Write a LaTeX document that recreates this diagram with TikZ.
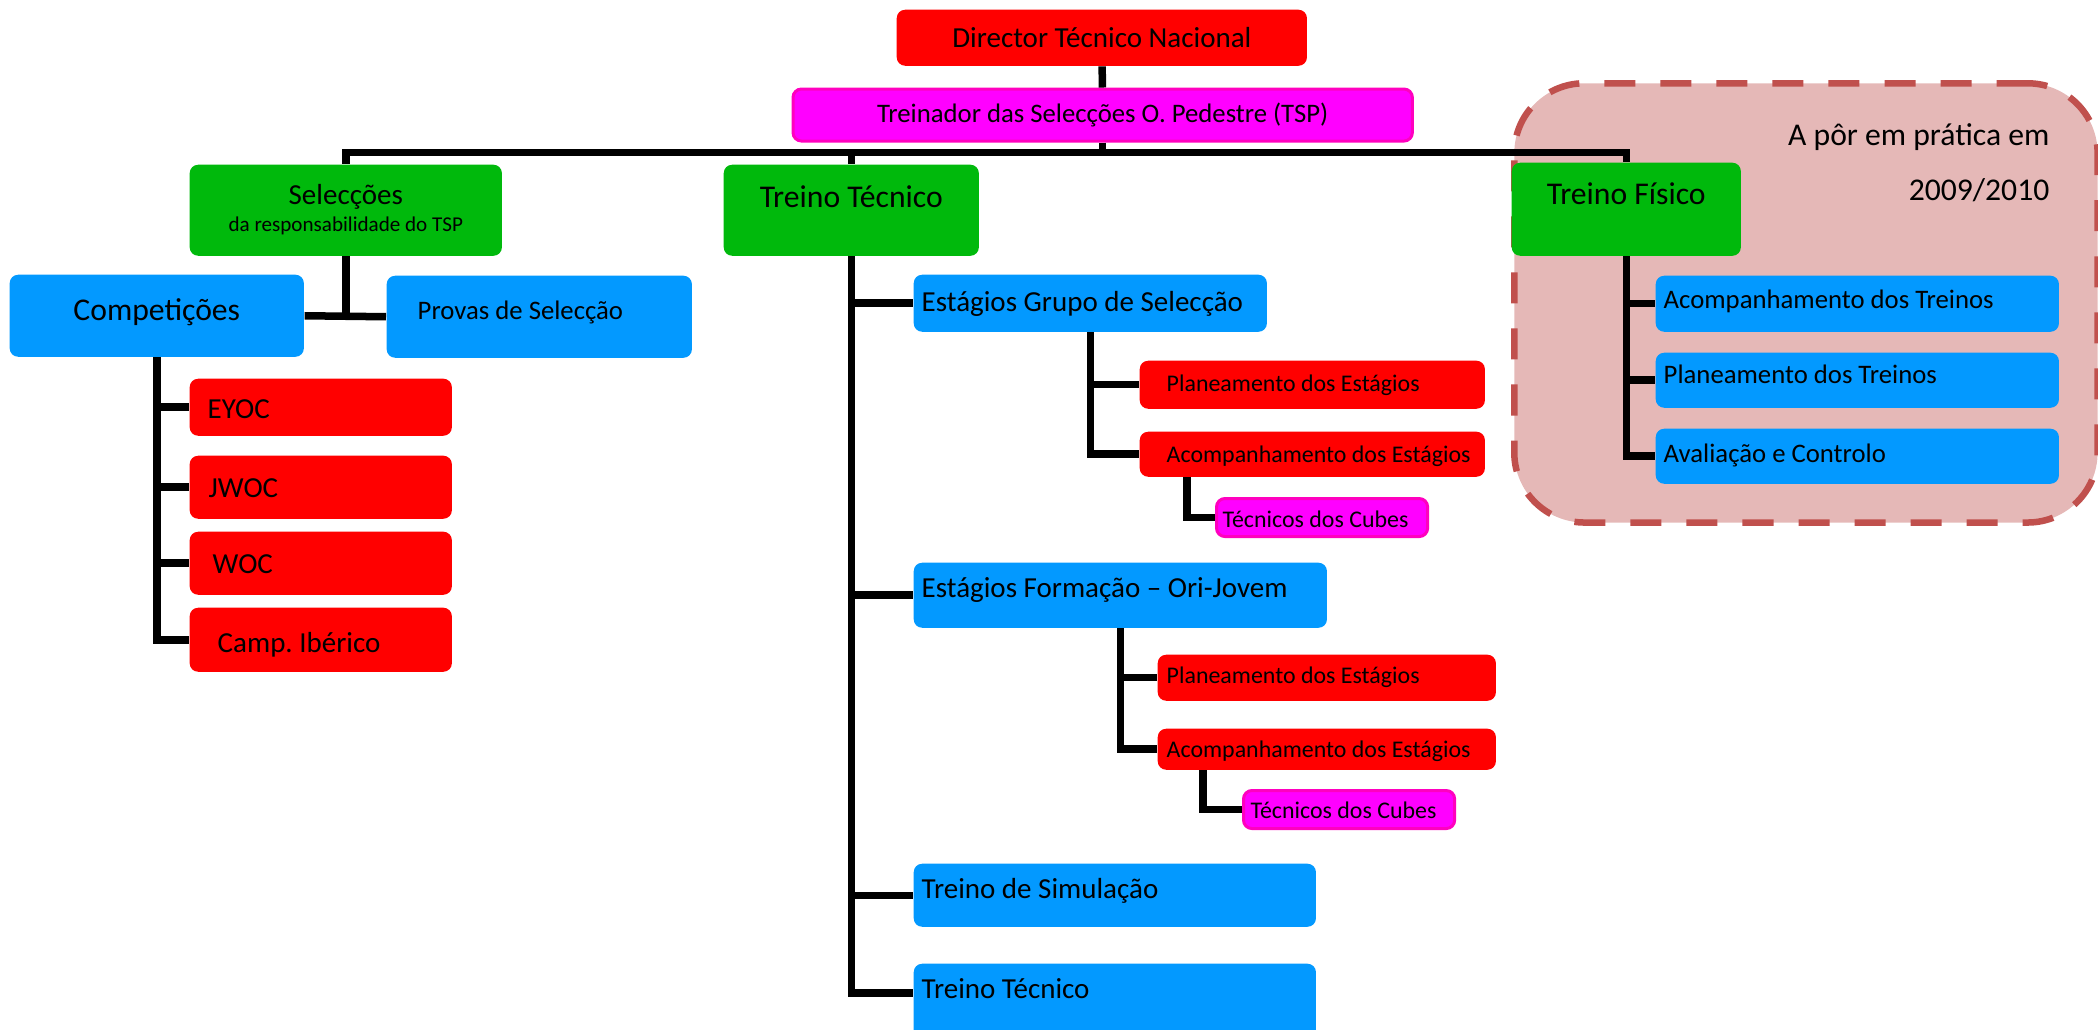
\documentclass[tikz,border=0pt]{standalone}
\usepackage{fontspec}
\setmainfont{Carlito}
\usetikzlibrary{positioning, calc}
\usepackage{xcolor}
\definecolor{boxred}{HTML}{FF0000}
\definecolor{boxpink}{HTML}{FF00FF}
\definecolor{pinkline}{HTML}{FF00BF}
\definecolor{boxgreen}{HTML}{00B90C}
\definecolor{boxblue}{HTML}{0399FF}
\definecolor{planfill}{HTML}{E5B8B7}
\definecolor{planline}{HTML}{C0504D}
\frenchspacing
\tikzset{
    box/.style={
        rectangle, rounded corners=2.4pt, anchor=north west,
        inner xsep=0pt, inner ysep=0pt, text=black, align=flush left
    },
    redbox/.style={box, fill=boxred},
    pinkbox/.style={box, fill=boxpink, draw=pinkline, line width=0.03cm},
    greenbox/.style={box, fill=boxgreen},
    bluebox/.style={box, fill=boxblue},
    planbox/.style={
        rectangle, rounded corners=0.7cm, anchor=north west, inner sep=0pt,
        fill=planfill, draw=planline, line width=0.065cm,
        dash pattern=on 0.31cm off 0.25cm
    },
    conn/.style={draw=black, line width=0.075cm},
    fbig/.style={font=\fontsize{9}{11}\selectfont},
    fmid/.style={font=\fontsize{8.25}{10}\selectfont},
    fsmall/.style={font=\fontsize{7.6}{9}\selectfont},
    ftiny/.style={font=\fontsize{6.8}{8}\selectfont}
}

\begin{document}
\begin{tikzpicture}[x=0.01cm, y=-0.01cm]

    \useasboundingbox (0,0) rectangle (2098,1029);

    % area still to be put in place
    \node[planbox, minimum width=5.83cm, minimum height=4.39cm] (plan) at (1511,80) {};
    \node[fbig, anchor=base east, inner sep=0pt] (note)  at (2050,145) {A pôr em prática em};
    \node[fbig, anchor=base east, inner sep=0pt] (years) at (2050,200) {2009/2010};

    % top of the tree
    \node[redbox, fmid, minimum width=4.10cm, text height=0.38cm, text depth=0.18cm]
        (dir) at (896,9) {Director Técnico Nacional};
    \node[pinkbox, fsmall, minimum width=6.19cm, text height=0.335cm, text depth=0.185cm]
        (tsp) at (791.5,87.5) {Treinador das Selecções O. Pedestre (TSP)};

    \node[greenbox, font=\fontsize{8.25}{7.7}\selectfont, text width=3.12cm, align=flush center,
        text height=0.40cm, text depth=0.51cm]
        (sel) at (189,164) {Selecções\\{\fontsize{6}{7.7}\selectfont da responsabilidade do TSP}};
    \node[greenbox, fbig, minimum width=2.55cm, text height=0.43cm, text depth=0.48cm]
        (tt) at (723,164) {Treino Técnico};
    \node[greenbox, fbig, minimum width=2.29cm, text height=0.42cm, text depth=0.51cm]
        (tf) at (1511,162) {Treino Físico};

    % selections
    \node[bluebox, fbig, minimum width=2.94cm, text height=0.46cm, text depth=0.36cm]
        (comp) at (9,274) {Competições};
    \node[bluebox, fsmall, inner xsep=0.31cm, text width=2.43cm, text height=0.44cm, text depth=0.38cm]
        (prov) at (386,275) {Provas de Selecção};

    \node[redbox, fmid, inner xsep=0.18cm, text width=2.26cm, text height=0.40cm, text depth=0.17cm]
        (eyoc) at (189,378) {EYOC};
    \node[redbox, fmid, inner xsep=0.19cm, text width=2.24cm, text height=0.42cm, text depth=0.21cm]
        (jwoc) at (189,455) {JWOC};
    \node[redbox, fmid, inner xsep=0.23cm, text width=2.16cm, text height=0.42cm, text depth=0.21cm]
        (woc) at (189,531) {WOC};
    \node[redbox, fmid, inner xsep=0.28cm, text width=2.06cm, text height=0.45cm, text depth=0.19cm]
        (camp) at (189,607) {Camp. Ibérico};

    % technical training
    \node[bluebox, fmid, inner xsep=0.08cm, text width=3.37cm, text height=0.37cm, text depth=0.20cm]
        (egs) at (913,274) {Estágios Grupo de Selecção};
    \node[redbox, ftiny, inner xsep=0.13cm, text width=3.19cm, text height=0.31cm, text depth=0.17cm]
        (pe1) at (1139,360) {\hspace{0.14cm}Planeamento dos Estágios};
    \node[redbox, ftiny, inner xsep=0.13cm, text width=3.19cm, text height=0.31cm, text depth=0.14cm]
        (ae1) at (1139,431) {\hspace{0.14cm}Acompanhamento dos Estágios};
    \node[pinkbox, ftiny, inner xsep=0.06cm, text width=1.99cm, text height=0.29cm, text depth=0.09cm]
        (tc1) at (1215,497) {Técnicos dos Cubes};

    \node[bluebox, fmid, inner xsep=0.08cm, text width=3.97cm, text height=0.35cm, text depth=0.30cm]
        (efo) at (913,562) {Estágios Formação – Ori-Jovem};
    \node[redbox, ftiny, inner xsep=0.09cm, text width=3.20cm, text height=0.29cm, text depth=0.17cm]
        (pe2) at (1157,654) {Planeamento dos Estágios};
    \node[redbox, ftiny, inner xsep=0.09cm, text width=3.20cm, text height=0.29cm, text depth=0.12cm]
        (ae2) at (1157,728) {Acompanhamento dos Estágios};
    \node[pinkbox, ftiny, inner xsep=0.07cm, text width=1.97cm, text height=0.28cm, text depth=0.10cm]
        (tc2) at (1242,789) {Técnicos dos Cubes};

    \node[bluebox, fmid, inner xsep=0.08cm, text width=3.86cm, text height=0.35cm, text depth=0.28cm]
        (tsim) at (913,863) {Treino de Simulação};
    \node[bluebox, fmid, inner xsep=0.08cm, text width=3.86cm, text height=0.35cm, text depth=0.45cm]
        (ttec) at (913,963) {Treino Técnico};

    % physical training
    \node[bluebox, fsmall, inner xsep=0.08cm, text width=3.87cm, text height=0.33cm, text depth=0.23cm]
        (atr) at (1655,275) {Acompanhamento dos Treinos};
    \node[bluebox, fsmall, inner xsep=0.08cm, text width=3.87cm, text height=0.31cm, text depth=0.24cm]
        (ptr) at (1655,352) {Planeamento dos Treinos};
    \node[bluebox, fsmall, inner xsep=0.08cm, text width=3.87cm, text height=0.34cm, text depth=0.21cm]
        (ava) at (1655,428) {Avaliação e Controlo};

    % connectors
    \path (tsp.south) ++(0,10) coordinate (bus);
    \draw[conn] (dir) -- (tsp);
    \draw[conn] (tsp.south) -- (bus);
    \draw[conn] (sel.north) |- (bus) -| (tf.north);
    \draw[conn] (tt.north) -- (tt.north |- bus);

    \draw[conn] (sel.south) -- (sel.south |- comp.east);
    \draw[conn] (comp.east) -- (prov.west);
    \foreach \n in {eyoc, jwoc, woc, camp}
        \draw[conn] (comp.south) |- (\n.west);

    \foreach \n in {egs, efo, tsim}
        \draw[conn] (tt.south) |- (\n.west);
    \draw[conn] (tt.south) |- ([yshift=-0.30cm]ttec.north west);
    \foreach \n in {pe1, ae1}
        \draw[conn] (egs.south) |- (\n.west);
    \draw[conn] (ae1.south west) ++(48,0) |- (tc1.west);
    \foreach \n in {pe2, ae2}
        \draw[conn] (efo.south) |- (\n.west);
    \draw[conn] (ae2.south west) ++(46,0) |- (tc2.west);

    \foreach \n in {atr, ptr, ava}
        \draw[conn] (tf.south) |- (\n.west);

\end{tikzpicture}
\end{document}
